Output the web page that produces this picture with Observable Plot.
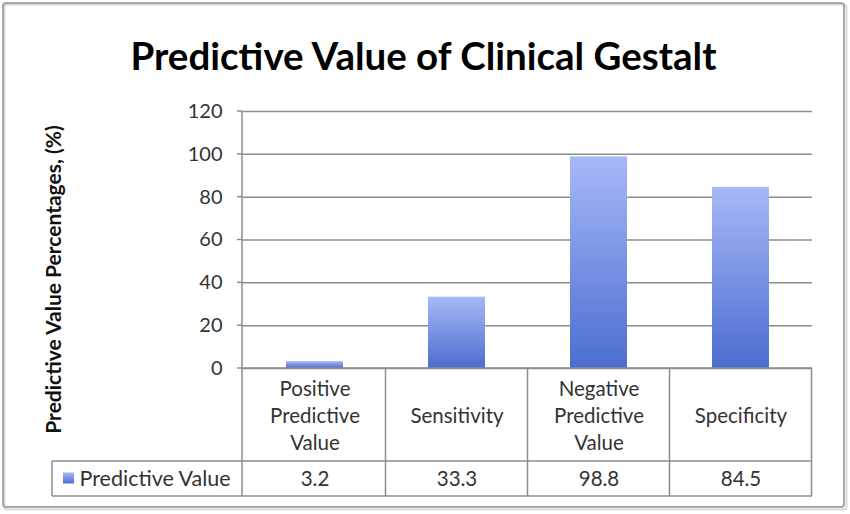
<!DOCTYPE html>
<html>
<head>
<meta charset="utf-8">
<script src="https://cdn.jsdelivr.net/npm/d3@7"></script>
<script src="https://cdn.jsdelivr.net/npm/@observablehq/plot@0.6"></script>
<style>
  html, body { margin: 0; padding: 0; background: #fff; }
</style>
</head>
<body>
<div id="chart"></div>
<script>
const titleText = "Predictive Value of Clinical Gestalt";
const yLabel = "Predictive Value Percentages, (%)";
const seriesName = "Predictive Value";
const categories = ["Positive Predictive Value", "Sensitivity", "Negative Predictive Value", "Specificity"];
const headerLabels = ["Positive\nPredictive\nValue", "Sensitivity", "Negative\nPredictive\nValue", "Specificity"];
const values = [3.2, 33.3, 98.8, 84.5];
const valueLabels = ["3.2", "33.3", "98.8", "84.5"];
const yTicks = [0, 20, 40, 60, 80, 100, 120];

const data = categories.map((c, i) => ({cat: c, header: headerLabels[i], value: values[i], label: valueLabels[i]}));

const FONT = "Lato, 'Open Sans', sans-serif";
const LINE = "#8c8c8c";

// Custom mark: data table grid, legend key, axis title and outer chart border
function tableGrid(index, scales, vals, dims) {
  const x = scales.x, y = scales.y;
  const left = dims.marginLeft, right = dims.width - dims.marginRight;
  const n = categories.length;
  const step = x.step ? x.step() : (right - left) / n;
  const bw = x.bandwidth ? x.bandwidth() : step * 0.4;
  const edges = categories.map(c => x(c) + bw / 2 - step / 2);
  edges.push(edges[n - 1] + step);
  const top = y(0);
  const headerBottom = top + 93;
  const tableBottom = headerBottom + 35;
  const legendLeft = left - 190;
  const g = d3.create("svg:g");
  // outer border with slight shadow
  g.append("rect").attr("x", 4.5).attr("y", 4.5).attr("width", 842).attr("height", 505)
    .attr("rx", 3).attr("fill", "none").attr("stroke", "#d9d9d9").attr("stroke-width", 2);
  g.append("rect").attr("x", 3).attr("y", 3).attr("width", 841).attr("height", 504)
    .attr("rx", 3).attr("fill", "none").attr("stroke", "#a8a8a8").attr("stroke-width", 2);
  const lines = g.append("g").attr("stroke", LINE).attr("stroke-width", 1.5).attr("fill", "none");
  // value axis line, continuing as first column border
  lines.append("line").attr("x1", left).attr("x2", left).attr("y1", y(120)).attr("y2", tableBottom);
  // other column borders
  edges.slice(1).forEach(e => {
    lines.append("line").attr("x1", e).attr("x2", e).attr("y1", top).attr("y2", tableBottom);
  });
  // horizontal lines
  lines.append("line").attr("x1", left).attr("x2", right).attr("y1", top).attr("y2", top);
  lines.append("line").attr("x1", legendLeft).attr("x2", right).attr("y1", headerBottom).attr("y2", headerBottom);
  lines.append("line").attr("x1", legendLeft).attr("x2", right).attr("y1", tableBottom).attr("y2", tableBottom);
  lines.append("line").attr("x1", legendLeft).attr("x2", legendLeft).attr("y1", headerBottom).attr("y2", tableBottom);
  // y-axis tick marks
  yTicks.forEach(t => {
    lines.append("line").attr("x1", left - 5).attr("x2", left).attr("y1", y(t)).attr("y2", y(t));
  });
  // legend key
  g.append("rect").attr("x", legendLeft + 11).attr("y", (headerBottom + tableBottom) / 2 - 6)
    .attr("width", 11).attr("height", 11).attr("fill", "url(#barGrad)");
  // y axis title
  g.append("text")
    .attr("transform", `translate(${legendLeft},${(y(120) + tableBottom) / 2 - 24}) rotate(-90)`)
    .attr("text-anchor", "middle").attr("dominant-baseline", "central")
    .attr("font-size", 21).attr("font-weight", "bold").attr("fill", "#111")
    .text(yLabel);
  return g.node();
}

const chart = Plot.plot({
  width: 850,
  height: 514,
  marginTop: 111,
  marginBottom: 146,
  marginLeft: 242,
  marginRight: 38,
  style: {fontFamily: FONT, fontSize: "20px", color: "#333", background: "#fff"},
  x: {domain: categories, paddingInner: 0.6, paddingOuter: 0.3, axis: null},
  y: {domain: [0, 120], axis: null},
  marks: [
    Plot.gridY(yTicks, {stroke: LINE, strokeOpacity: 1, strokeWidth: 1.5}),
    Plot.axisY(yTicks, {tickSize: 0, tickPadding: 20, fontSize: 20, fill: "#333", label: null}),
    Plot.barY(data, {x: "cat", y: "value", fill: "url(#barGrad)"}),
    tableGrid,
    // header row labels
    Plot.text(data, {x: "cat", text: "header", frameAnchor: "bottom", dy: 46, lineAnchor: "middle",
      lineHeight: 1.32, fontSize: 20.5, fill: "#333"}),
    // value row
    Plot.text(data, {x: "cat", text: "label", frameAnchor: "bottom", dy: 111, lineAnchor: "middle",
      fontSize: 20.5, fill: "#333"}),
    // legend label
    Plot.text([seriesName], {frameAnchor: "bottom-left", dx: -163, dy: 111, textAnchor: "start",
      lineAnchor: "middle", fontSize: 21.5, fill: "#333"}),
    // title
    Plot.text([titleText], {frameAnchor: "top", dx: -104, dy: -54, lineAnchor: "middle", fontSize: 38.5,
      fontWeight: "bold", fill: "#000"})
  ]
});

const svgNS = "http://www.w3.org/2000/svg";
const defs = document.createElementNS(svgNS, "defs");
defs.innerHTML = `<linearGradient id="barGrad" x1="0" y1="0" x2="0" y2="1">
  <stop offset="0" stop-color="#a6b8f6"/>
  <stop offset="1" stop-color="#4c6dd1"/>
</linearGradient>`;
chart.insertBefore(defs, chart.firstChild);

document.getElementById("chart").appendChild(chart);
</script>
</body>
</html>
